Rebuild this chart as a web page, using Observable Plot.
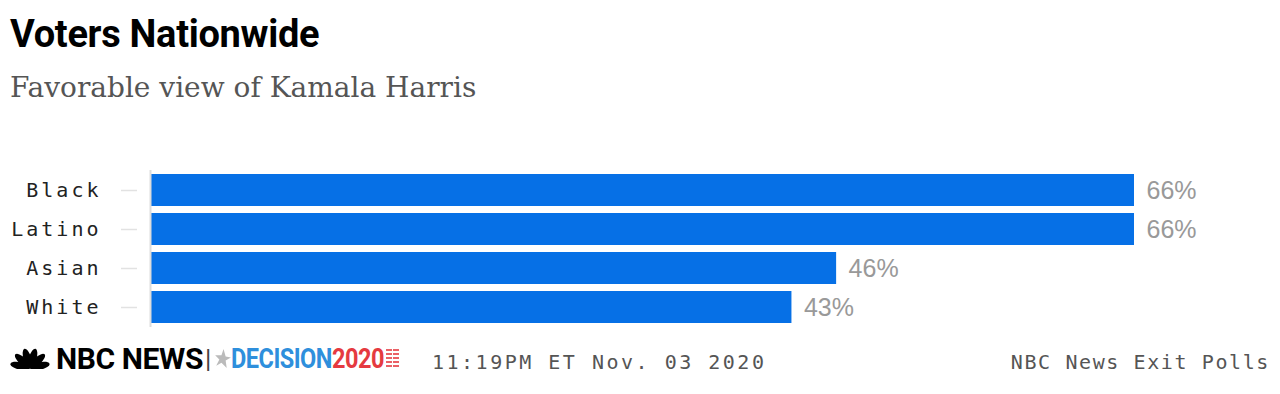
<!DOCTYPE html>
<html>
<head>
<meta charset="utf-8">
<script src="https://cdn.jsdelivr.net/npm/d3@7"></script>
<script src="https://cdn.jsdelivr.net/npm/@observablehq/plot@0.6"></script>
<style>
  html, body { margin: 0; padding: 0; background: #fff; }
  #page { position: relative; width: 1280px; height: 394px; overflow: hidden; }
  .abs { position: absolute; white-space: nowrap; line-height: 1; }
  #title { left: 10px; top: 15px; font-family: Roboto, sans-serif; font-weight: 700; font-size: 38px; letter-spacing: -0.3px; color: #000; }
  #subtitle { left: 10px; top: 74px; font-family: "DejaVu Serif", serif; font-size: 28px; color: #555; }
  #chart { position: absolute; left: 0; top: 160px; }
  #chart svg [aria-label="y-axis tick label"] text { letter-spacing: 3px; }
  #stamp { left: 432px; top: 352px; font-family: "DejaVu Sans Mono", monospace; font-size: 20px; letter-spacing: 2.5px; color: #555; }
  #source { right: 10px; top: 352px; font-family: "DejaVu Sans Mono", monospace; font-size: 20px; letter-spacing: 1.6px; color: #555; }
  .nbc { font-family: Roboto, sans-serif; font-weight: 700; font-size: 30px; letter-spacing: -0.4px; color: #000; }
  .pipe { font-family: Roboto, sans-serif; font-size: 26px; color: #444; }
  .dec { font-family: Roboto, sans-serif; font-weight: 700; font-size: 28px; letter-spacing: -0.6px; color: #2e8fdc; transform: scaleX(0.84); transform-origin: left top; }
  .yr { color: #e53a40; }
</style>
</head>
<body>
<div id="page">
  <div id="title" class="abs">Voters Nationwide</div>
  <div id="subtitle" class="abs">Favorable view of Kamala Harris</div>
  <div id="chart"></div>
  <svg class="abs" style="left:9px;top:345px" width="42" height="24" viewBox="0 0 42 24">
    <g fill="#000" transform="translate(21,23)">
      <ellipse cx="0" cy="-10" rx="3.8" ry="10" transform="rotate(-78)"/>
      <ellipse cx="0" cy="-10" rx="3.8" ry="10" transform="rotate(-47)"/>
      <ellipse cx="0" cy="-10" rx="3.8" ry="10" transform="rotate(-16)"/>
      <ellipse cx="0" cy="-10" rx="3.8" ry="10" transform="rotate(16)"/>
      <ellipse cx="0" cy="-10" rx="3.8" ry="10" transform="rotate(47)"/>
      <ellipse cx="0" cy="-10" rx="3.8" ry="10" transform="rotate(78)"/>
    </g>
  </svg>
  <div class="abs nbc" style="left:56px;top:344px">NBC NEWS</div>
  <div class="abs pipe" style="left:205px;top:346px">|</div>
  <svg class="abs" style="left:214px;top:348px" width="17" height="21" viewBox="0 0 16 20"><polygon points="9,1 11,8 16,9 11,12 12,19 7,14 2,17 5,11 1,7 7,7" fill="#bbb"/></svg>
  <div class="abs dec" style="left:231px;top:345px">DECISION<span class="yr">2020</span></div>
  <svg class="abs" style="left:386px;top:348px" width="13" height="21" viewBox="0 0 13 21"><g stroke="#e53a40" stroke-width="1.6"><line x1="0" y1="2" x2="13" y2="2"/><line x1="0" y1="6" x2="13" y2="6"/><line x1="0" y1="10" x2="13" y2="10"/><line x1="0" y1="14" x2="13" y2="14"/><line x1="0" y1="18" x2="13" y2="18"/></g><line x1="6.5" y1="0" x2="6.5" y2="20" stroke="#fff" stroke-width="1"/></svg>
  <div id="stamp" class="abs">11:19PM ET Nov. 03 2020</div>
  <div id="source" class="abs">NBC News Exit Polls</div>
</div>
<script>
const groups = ["Black", "Latino", "Asian", "White"];
const favorable = [66, 66, 46, 43];
const valueLabels = ["66%", "66%", "46%", "43%"];

const data = groups.map((g, i) => ({group: g, value: favorable[i], label: valueLabels[i]}));

const chart = Plot.plot({
  width: 1280,
  height: 170,
  marginLeft: 151,
  marginRight: 146,
  marginTop: 10,
  marginBottom: 3,
  style: {background: "transparent", fontFamily: "DejaVu Sans Mono, monospace"},
  x: {domain: [0, 66], axis: null},
  y: {domain: groups, paddingInner: 0.19, paddingOuter: 0.1, label: null},
  marks: [
    Plot.barX(data, {x: "value", y: "group", fill: "#0670e6"}),
    Plot.ruleX([0], {stroke: "#ddd", strokeWidth: 2, dx: -1}),
    Plot.axisY({
      tickSize: 16,
      tickPadding: 20,
      dx: -14,
      stroke: "#e2e2e2",
      strokeWidth: 1.5,
      fill: "#222",
      fontSize: 20,
      label: null
    }),
    Plot.text(data, {
      x: "value",
      y: "group",
      text: "label",
      dx: 12,
      textAnchor: "start",
      fill: "#999",
      fontSize: 25,
      fontFamily: "Liberation Sans, sans-serif"
    })
  ]
});
document.getElementById("chart").appendChild(chart);
</script>
</body>
</html>
